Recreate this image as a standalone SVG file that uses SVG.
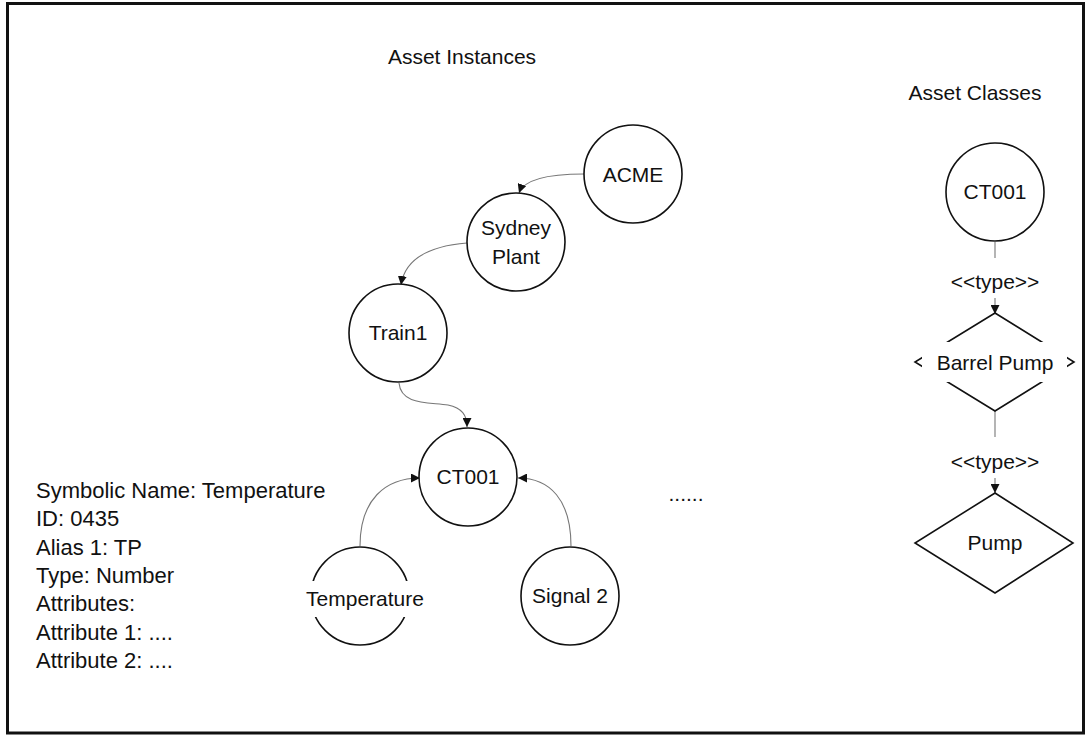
<svg xmlns="http://www.w3.org/2000/svg" width="1092" height="738" viewBox="0 0 1092 738">
<style>
text{font-family:"Liberation Sans",Arial,sans-serif;font-size:21px;fill:#111;}
.c{text-anchor:middle;}
.d{font-size:22px;}
.node{fill:#fff;stroke:#111;stroke-width:1.6;}
.conn{fill:none;stroke:#777;stroke-width:1.1;}
</style>
<defs>
<marker id="ah" viewBox="0 0 10 10" refX="10" refY="5" markerWidth="9" markerHeight="9" markerUnits="userSpaceOnUse" orient="auto">
<path d="M0,0 L10,5 L0,10 z" fill="#111"/>
</marker>
</defs>
<rect x="0" y="0" width="1092" height="738" fill="#fff"/>
<rect x="7.5" y="3.5" width="1076" height="729.5" fill="none" stroke="#111" stroke-width="3"/>

<text id="title-instances" x="462" y="64" class="c">Asset Instances</text>
<text id="title-classes" x="975" y="100" class="c">Asset Classes</text>

<g id="connectors">
<path class="conn" d="M584,174 C550,174 524,179 519,193" marker-end="url(#ah)"/>
<path class="conn" d="M467,243 C430,246 405,258 401,285" marker-end="url(#ah)"/>
<path class="conn" d="M399,383 C401,405 428,402 448,405 C462,408 467,415 467,427" marker-end="url(#ah)"/>
<path class="conn" d="M360,546 C360,500 385,478 420,478" marker-end="url(#ah)"/>
<path class="conn" d="M571,546 C571,500 550,478 518,478" marker-end="url(#ah)"/>
<line class="conn" x1="995" y1="242" x2="995" y2="258"/>
<path class="conn" d="M995,298 L995,314" marker-end="url(#ah)"/>
<line class="conn" x1="995" y1="411" x2="995" y2="437"/>
<path class="conn" d="M995,478 L995,493" marker-end="url(#ah)"/>
<text x="995" y="289" class="c">&lt;&lt;type&gt;&gt;</text>
<text x="995" y="469" class="c">&lt;&lt;type&gt;&gt;</text>
</g>

<g id="node-acme">
<circle class="node" cx="633" cy="174" r="49"/>
<text x="633" y="182" class="c">ACME</text>
</g>
<g id="node-sydney">
<circle class="node" cx="516" cy="242" r="49"/>
<text x="516" y="235" class="c">Sydney</text>
<text x="516" y="264" class="c">Plant</text>
</g>
<g id="node-train1">
<circle class="node" cx="398" cy="333" r="49"/>
<text x="398" y="340" class="c">Train1</text>
</g>
<g id="node-ct001">
<circle class="node" cx="468" cy="477" r="49"/>
<text x="468" y="484" class="c">CT001</text>
</g>
<g id="node-temperature">
<circle class="node" cx="360" cy="596" r="49"/>
<rect x="298" y="581" width="132" height="36" fill="#fff"/>
<text x="365" y="606" class="c">Temperature</text>
</g>
<g id="node-signal2">
<circle class="node" cx="570" cy="596" r="49"/>
<text x="570" y="603" class="c">Signal 2</text>
</g>
<g id="ellipsis">
<text x="686" y="501" class="c">......</text>
</g>

<g id="node-class-ct001">
<circle class="node" cx="995" cy="192" r="49"/>
<text x="995" y="199" class="c">CT001</text>
</g>
<g id="node-barrel-pump">
<polygon class="node" points="995,313 1074,362 995,411 915,362"/>
<rect x="922" y="342" width="145" height="40" fill="#fff"/>
<text x="995" y="370" class="c">Barrel Pump</text>
</g>
<g id="node-pump">
<polygon class="node" points="995,493 1073,543 995,593 915,543"/>
<text x="995" y="550" class="c">Pump</text>
</g>

<g id="details">
<text class="d" x="36" y="498">Symbolic Name: Temperature</text>
<text class="d" x="36" y="526">ID: 0435</text>
<text class="d" x="36" y="555">Alias 1: TP</text>
<text class="d" x="36" y="583">Type: Number</text>
<text class="d" x="36" y="611">Attributes:</text>
<text class="d" x="36" y="640">Attribute 1: ....</text>
<text class="d" x="36" y="668">Attribute 2: ....</text>
</g>
</svg>
